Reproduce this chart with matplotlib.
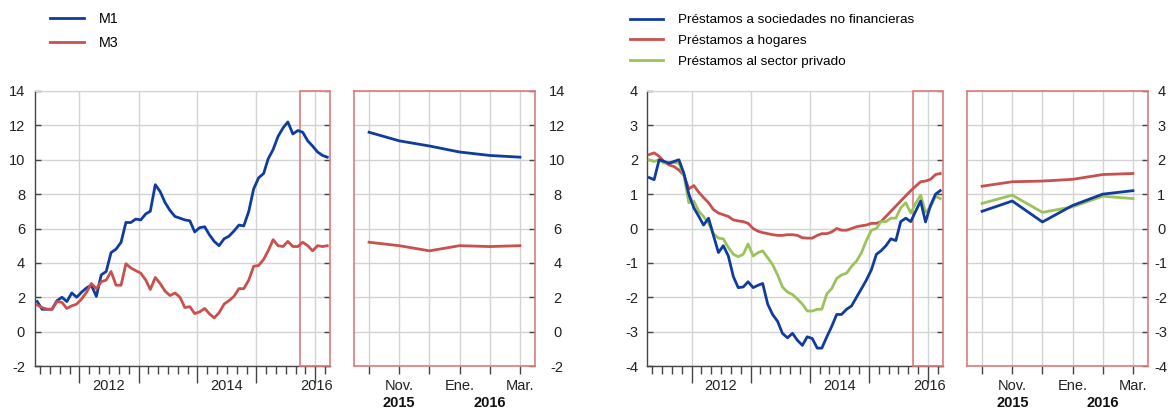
import matplotlib
matplotlib.use("Agg")
import matplotlib.pyplot as plt
import matplotlib.dates as mdates
from matplotlib.patches import Rectangle
from matplotlib.ticker import NullFormatter
import pandas as pd
import numpy as np
import datetime as dt

plt.rcParams['font.family'] = ['Liberation Sans', 'DejaVu Sans']

# ---------------- data ----------------
months = pd.date_range('2011-04-01', '2016-03-01', freq='MS')

m1 = [1.75, 1.3, 1.3, 1.3, 1.8, 2.0, 1.75, 2.25, 2.0, 2.3, 2.55, 2.7, 2.05, 3.3, 3.5,
      4.6, 4.8, 5.2, 6.35, 6.35, 6.55, 6.5, 6.85, 7.0, 8.55, 8.15, 7.5, 7.05, 6.7, 6.6,
      6.5, 6.45, 5.8, 6.05, 6.1, 5.65, 5.25, 5.0, 5.4, 5.55, 5.85, 6.2, 6.15, 7.0, 8.3,
      8.95, 9.2, 10.05, 10.6, 11.35, 11.85, 12.2, 11.5, 11.7, 11.6, 11.1, 10.8, 10.45, 10.25, 10.15]
m3 = [1.55, 1.4, 1.3, 1.3, 1.75, 1.7, 1.35, 1.5, 1.6, 1.9, 2.3, 2.8, 2.5, 2.9, 3.0,
      3.5, 2.7, 2.7, 3.95, 3.7, 3.55, 3.4, 3.0, 2.45, 3.15, 2.8, 2.35, 2.1, 2.25, 2.0,
      1.4, 1.45, 1.05, 1.15, 1.35, 1.05, 0.8, 1.1, 1.6, 1.8, 2.05, 2.5, 2.5, 3.0, 3.8,
      3.85, 4.2, 4.7, 5.35, 5.0, 4.95, 5.25, 4.95, 4.95, 5.2, 5.0, 4.7, 5.0, 4.95, 5.0]

nfc = [1.48, 1.42, 2.0, 1.95, 1.9, 1.95, 2.0, 1.6, 1.0, 0.6, 0.35, 0.1, 0.3, -0.2, -0.7,
       -0.5, -0.8, -1.4, -1.72, -1.7, -1.55, -1.72, -1.65, -1.6, -2.2, -2.5, -2.7, -3.05, -3.18, -3.05,
       -3.25, -3.4, -3.15, -3.2, -3.48, -3.48, -3.15, -2.85, -2.5, -2.5, -2.35, -2.25, -2.0, -1.75, -1.5,
       -1.2, -0.75, -0.65, -0.5, -0.3, -0.35, 0.2, 0.3, 0.2, 0.5, 0.8, 0.19, 0.67, 1.0, 1.1]
hogares = [2.15, 2.2, 2.1, 1.95, 1.85, 1.8, 1.7, 1.55, 1.15, 1.25, 1.05, 0.9, 0.75, 0.55, 0.45,
           0.4, 0.35, 0.25, 0.22, 0.2, 0.15, 0.0, -0.08, -0.12, -0.15, -0.18, -0.2, -0.2, -0.18, -0.18,
           -0.2, -0.27, -0.28, -0.28, -0.2, -0.15, -0.15, -0.1, 0.0, -0.05, -0.05, 0.0, 0.05, 0.08, 0.1,
           0.15, 0.15, 0.2, 0.35, 0.5, 0.65, 0.8, 0.95, 1.1, 1.23, 1.36, 1.38, 1.43, 1.57, 1.6]
privado = [2.0, 1.95, 2.0, 1.9, 1.92, 1.92, 1.9, 1.55, 0.75, 0.8, 0.5, 0.35, 0.15, -0.15, -0.28,
           -0.3, -0.55, -0.75, -0.82, -0.75, -0.45, -0.8, -0.7, -0.65, -0.85, -1.05, -1.35, -1.7, -1.85, -1.92,
           -2.05, -2.2, -2.4, -2.4, -2.35, -2.35, -1.9, -1.75, -1.45, -1.35, -1.3, -1.1, -0.95, -0.7, -0.35,
           -0.05, 0.0, 0.2, 0.2, 0.3, 0.3, 0.6, 0.75, 0.45, 0.73, 0.97, 0.47, 0.63, 0.94, 0.87]

zoom_months = ['Oct.', 'Nov.', 'Dic.', 'Ene.', 'Feb.', 'Mar.']
zoom_labels = ['', 'Nov.', '', 'Ene.', '', 'Mar.']
zoom_years = {1: '2015', 4: '2016'}
year_labels = {'2012': dt.datetime(2012, 7, 1), '2014': dt.datetime(2014, 7, 1), '2016': dt.datetime(2016, 1, 7)}

left_yticks = list(range(-2, 15, 2))
right_yticks = list(range(-4, 5, 1))

BLUE = '#0F3C9E'
RED = '#C9504E'
GREEN = '#9CC35A'
BOXRED = '#E07A7A'
GRID = '#D3D3D3'
DARK = '#454545'
FS = 10.5

W, H = 1173, 409
fig = plt.figure(figsize=(W / 100, H / 100), dpi=100)


def fa(x0, x1):
    return [x0 / W, (H - 366) / H, (x1 - x0) / W, 275 / H]


x_main = months + pd.Timedelta(days=14)
x_start = dt.datetime(2011, 4, 1)
x_end = dt.datetime(2016, 4, 1)
box_start = dt.datetime(2015, 10, 1)


def style_main(ax, yticks, pad):
    ax.set_xlim(x_start, x_end)
    ax.set_ylim(yticks[0], yticks[-1])
    ax.set_yticks(yticks)
    ax.set_yticklabels([str(v) for v in yticks])
    ax.xaxis.set_major_locator(mdates.YearLocator())
    ax.xaxis.set_minor_locator(mdates.MonthLocator(bymonth=[1, 3, 5, 7, 9, 11]))
    ax.xaxis.set_major_formatter(NullFormatter())
    ax.xaxis.set_minor_formatter(NullFormatter())
    ax.tick_params(axis='x', which='major', length=12, width=1, color=DARK, direction='out')
    ax.tick_params(axis='x', which='minor', length=6, width=1, color=DARK, direction='out')
    ax.tick_params(axis='y', which='major', direction='in', left=True, right=True, length=4,
                   width=1, color=DARK, labelsize=FS, pad=pad, labelcolor='#222222')
    ax.grid(axis='y', color=GRID, lw=1.0, zorder=0)
    ax.grid(axis='x', which='major', color=GRID, lw=1.0, zorder=0)
    ax.set_axisbelow(True)
    ax.spines['top'].set_color(GRID)
    ax.spines['right'].set_visible(False)
    for s in ('left', 'bottom'):
        ax.spines[s].set_color(DARK)
        ax.spines[s].set_linewidth(1.0)
    ylo, yhi = yticks[0], yticks[-1]
    x0 = mdates.date2num(box_start)
    x1 = mdates.date2num(x_end)
    ax.add_patch(Rectangle((x0, ylo), x1 - x0, yhi - ylo, fill=False, ec=BOXRED, lw=1.2,
                           clip_on=False, zorder=3))
    for lab, d in year_labels.items():
        ax.text(d, -0.071, lab, transform=ax.get_xaxis_transform(), ha='center', va='center',
                fontsize=FS, color='#222222')


def style_zoom(ax, yticks, pad):
    ax.set_xlim(-0.5, 5.5)
    ax.set_ylim(yticks[0], yticks[-1])
    ax.set_yticks(yticks)
    ax.set_yticklabels([str(v) for v in yticks])
    ax.yaxis.tick_right()
    ax.set_xticks(range(len(zoom_months)))
    ax.set_xticklabels([])
    ax.tick_params(axis='x', direction='out', length=6, width=1, color=DARK)
    ax.tick_params(axis='y', direction='in', left=False, right=True, length=4, width=1,
                   color=DARK, labelsize=FS, pad=pad, labelcolor='#222222')
    for lab in ax.get_yticklabels():
        lab.set_horizontalalignment('center')
    ax.grid(True, color=GRID, lw=1.0, zorder=0)
    ax.set_axisbelow(True)
    for s in ax.spines.values():
        s.set_color(BOXRED)
        s.set_linewidth(1.2)
    for i, lab in enumerate(zoom_labels):
        if lab:
            ax.text(i, -0.071, lab, transform=ax.get_xaxis_transform(), ha='center', va='center',
                    fontsize=FS, color='#222222')
    for i, yr in zoom_years.items():
        ax.text(i, -0.133, yr, transform=ax.get_xaxis_transform(), ha='center', va='center',
                fontsize=FS, fontweight='bold', color='#111111')


LW = 2.0
# ---------- left group ----------
ax1 = fig.add_axes(fa(35, 330))
l_m1, = ax1.plot(x_main, m1, color=BLUE, lw=LW, label='M1', zorder=4)
l_m3, = ax1.plot(x_main, m3, color=RED, lw=LW, label='M3', zorder=4)
style_main(ax1, left_yticks, 7.2)

ax2 = fig.add_axes(fa(354, 535))
zx = np.arange(len(zoom_months))
ax2.plot(zx, m1[-6:], color=BLUE, lw=LW, zorder=4)
ax2.plot(zx, m3[-6:], color=RED, lw=LW, zorder=4)
style_zoom(ax2, left_yticks, 16)

# ---------- right group ----------
ax3 = fig.add_axes(fa(647, 943))
l_nfc, = ax3.plot(x_main, nfc, color=BLUE, lw=LW, label='Préstamos a sociedades no financieras', zorder=5)
l_hh, = ax3.plot(x_main, hogares, color=RED, lw=LW, label='Préstamos a hogares', zorder=4)
l_pr, = ax3.plot(x_main, privado, color=GREEN, lw=LW, label='Préstamos al sector privado', zorder=4)
style_main(ax3, right_yticks, 6.5)

ax4 = fig.add_axes(fa(967, 1148))
ax4.plot(zx, hogares[-6:], color=RED, lw=LW, zorder=4)
ax4.plot(zx, privado[-6:], color=GREEN, lw=LW, zorder=4)
ax4.plot(zx, nfc[-6:], color=BLUE, lw=LW, zorder=5)
style_zoom(ax4, right_yticks, 9.5)

# ---------- legends ----------
fig.legend(handles=[l_m1, l_m3], loc='upper left', bbox_to_anchor=(50 / W, 1 - 12 / H),
           frameon=False, fontsize=10.3, handlelength=2.4, handletextpad=1.0,
           labelspacing=0.72, borderpad=0, borderaxespad=0)
fig.legend(handles=[l_nfc, l_hh, l_pr], loc='upper left', bbox_to_anchor=(630 / W, 1 - 14 / H),
           frameon=False, fontsize=9.7, handlelength=2.45, handletextpad=1.1,
           labelspacing=0.62, borderpad=0, borderaxespad=0)

fig.savefig('out.png', dpi=100)
